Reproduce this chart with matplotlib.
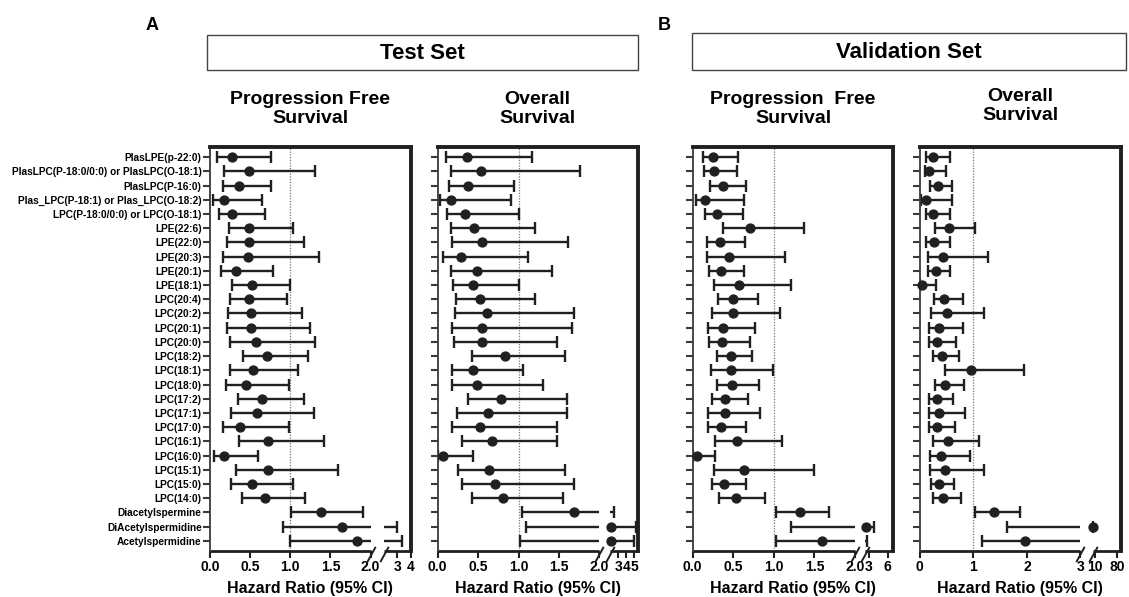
import matplotlib
matplotlib.use("Agg")
import matplotlib.pyplot as plt
from matplotlib.patches import Rectangle
import numpy as np

plt.rcParams['font.family'] = ['Liberation Sans', 'DejaVu Sans']
plt.rcParams['font.weight'] = 'bold'

labels = ['PlasLPE(p-22:0)', 'PlasLPC(P-18:0/0:0) or PlasLPC(O-18:1)', 'PlasLPC(P-16:0)',
          'Plas_LPC(P-18:1) or Plas_LPC(O-18:2)', 'LPC(P-18:0/0:0) or LPC(O-18:1)',
          'LPE(22:6)', 'LPE(22:0)', 'LPE(20:3)', 'LPE(20:1)', 'LPE(18:1)',
          'LPC(20:4)', 'LPC(20:2)', 'LPC(20:1)', 'LPC(20:0)', 'LPC(18:2)', 'LPC(18:1)',
          'LPC(18:0)', 'LPC(17:2)', 'LPC(17:1)', 'LPC(17:0)', 'LPC(16:1)', 'LPC(16:0)',
          'LPC(15:1)', 'LPC(15:0)', 'LPC(14:0)', 'Diacetylspermine', 'DiAcetylspermidine',
          'Acetylspermidine']

# test set, progression free survival
test_pfs_hr = [0.28, 0.48, 0.36, 0.175, 0.28, 0.49, 0.49, 0.47, 0.33, 0.525, 0.49, 0.51, 0.51, 0.57,
               0.71, 0.53, 0.45, 0.65, 0.58, 0.375, 0.72, 0.18, 0.72, 0.525, 0.69, 1.38, 1.65, 1.83]
test_pfs_lo = [0.09, 0.175, 0.158, 0.04, 0.108, 0.233, 0.21, 0.158, 0.133, 0.275, 0.246, 0.22, 0.21, 0.246,
               0.41, 0.246, 0.2, 0.346, 0.26, 0.158, 0.36, 0.046, 0.33, 0.26, 0.396, 1.01, 0.91, 1.0]
test_pfs_hi = [0.76, 1.31, 0.76, 0.65, 0.69, 1.04, 1.17, 1.36, 0.79, 1.0, 0.96, 1.15, 1.24, 1.31,
               1.22, 1.10, 0.99, 1.17, 1.30, 0.98, 1.42, 0.6, 1.59, 1.04, 1.18, 1.9, 2.96, 3.35]

# test set, overall survival
test_os_hr = [0.36, 0.54, 0.37, 0.165, 0.34, 0.455, 0.545, 0.285, 0.48, 0.434, 0.525, 0.61, 0.55, 0.55,
              0.83, 0.434, 0.48, 0.785, 0.62, 0.525, 0.67, 0.07, 0.64, 0.715, 0.81, 1.68, 2.1, 2.05]
test_os_lo = [0.10, 0.165, 0.145, 0.03, 0.116, 0.165, 0.178, 0.066, 0.165, 0.19, 0.227, 0.215, 0.178, 0.2,
              0.426, 0.178, 0.178, 0.38, 0.244, 0.18, 0.3, 0.0, 0.256, 0.3, 0.426, 1.045, 1.095, 1.02]
test_os_hi = [1.17, 1.76, 0.94, 0.91, 1.01, 1.2, 1.61, 1.12, 1.41, 1.0, 1.2, 1.68, 1.66, 1.48,
              1.58, 1.05, 1.3, 1.6, 1.6, 1.48, 1.47, 0.44, 1.58, 1.69, 1.55, 2.45, 5.2, 4.95]

# validation set, progression free survival
val_pfs_hr = [0.25, 0.26, 0.37, 0.15, 0.3, 0.71, 0.333, 0.444, 0.354, 0.57, 0.494, 0.494, 0.374, 0.366,
              0.47, 0.47, 0.49, 0.4, 0.4, 0.35, 0.55, 0.05, 0.63, 0.39, 0.535, 1.32, 2.6, 1.59]
val_pfs_lo = [0.123, 0.14, 0.214, 0.037, 0.152, 0.37, 0.173, 0.173, 0.2, 0.26, 0.31, 0.235, 0.185, 0.2,
              0.3, 0.226, 0.3, 0.24, 0.185, 0.185, 0.276, 0.0, 0.263, 0.235, 0.325, 1.03, 1.21, 1.025]
val_pfs_hi = [0.56, 0.55, 0.66, 0.63, 0.62, 1.37, 0.646, 1.14, 0.63, 1.21, 0.81, 1.07, 0.77, 0.7,
              0.73, 0.99, 0.82, 0.68, 0.83, 0.66, 1.1, 0.28, 1.5, 0.66, 0.89, 1.68, 3.9, 2.75]

# validation set, overall survival
val_os_hr = [0.25, 0.17, 0.34, 0.125, 0.25, 0.54, 0.27, 0.44, 0.3, 0.05, 0.46, 0.505, 0.36, 0.33,
             0.42, 0.95, 0.47, 0.32, 0.36, 0.32, 0.52, 0.405, 0.47, 0.355, 0.43, 1.39, 4.5, 1.96]
val_os_lo = [0.11, 0.09, 0.187, 0.03, 0.11, 0.28, 0.125, 0.15, 0.15, 0.0, 0.26, 0.206, 0.17, 0.17,
             0.243, 0.467, 0.28, 0.17, 0.17, 0.17, 0.24, 0.19, 0.19, 0.206, 0.243, 1.03, 1.63, 1.17]
val_os_hi = [0.56, 0.49, 0.61, 0.61, 0.57, 1.03, 0.57, 1.28, 0.57, 0.31, 0.8, 1.2, 0.8, 0.67,
             0.73, 1.94, 0.82, 0.62, 0.84, 0.65, 1.11, 0.93, 1.2, 0.635, 0.77, 1.88, 5.5, 3.0]

W, H = 1129, 597
INK = '#231f20'


def fx(px):
    return px / W


def fy(py):
    return 1 - py / H


def broken_scale(b1, k1, s2a, g0, k2):
    # piecewise axis: [0, b1] at k1 px/unit, then a gap, then [s2a, ...] at k2 px/unit
    def fwd(v):
        v = np.asarray(v, dtype=float)
        return np.where(v <= b1, v * k1, g0 + (v - s2a) * k2)

    def inv(u):
        u = np.asarray(u, dtype=float)
        return np.where(u <= b1 * k1, u / k1, s2a + (u - g0) / k2)
    return fwd, inv


def forest(ax, hr, lo, hi, cfg, show_labels):
    b1, k1, s2a, g0, k2, xmax = cfg['scale']
    ax.set_xscale('function', functions=broken_scale(b1, k1, s2a, g0, k2))
    ax.set_xlim(0, xmax)
    rows = np.arange(len(hr))
    ax.set_ylim(27.7, -0.7)

    ax.axvline(1.0, color='#777777', lw=0.9, ls=(0, (1, 1.2)), zorder=1)

    segs = [(0.0, b1), (s2a + 1e-6, xmax)]
    for r in rows:
        for a, b in segs:
            l = max(lo[r], a)
            h = min(hi[r], b)
            if l >= h:
                continue
            ax.plot([l, h], [r, r], color=INK, lw=1.7, solid_capstyle='butt', zorder=2)
            if a <= lo[r] < b:
                ax.plot(lo[r], r, marker='|', ms=8, mew=1.7, color=INK, zorder=2)
            if a < hi[r] < b:
                ax.plot(hi[r], r, marker='|', ms=8, mew=1.7, color=INK, zorder=2)
    ax.plot(hr, rows, 'o', ms=6.4, color=INK, zorder=3, clip_on=False)

    # frame
    ax.spines['top'].set_linewidth(2.8)
    ax.spines['right'].set_linewidth(2.8)
    ax.spines['top'].set_color(INK)
    ax.spines['right'].set_color(INK)
    ax.spines['left'].set_linewidth(1.3)
    ax.spines['left'].set_color('#3a3a3a')
    ax.spines['bottom'].set_visible(False)
    xt = ax.get_xaxis_transform()
    for a, b in segs:
        ax.plot([a, b], [0, 0], color=INK, lw=2, transform=xt, clip_on=False, solid_capstyle='butt')
    for xb in (b1, s2a + 1e-6):
        ax.plot(xb, -0.008, marker=[(-0.55, -1), (0.55, 1)], ms=11, mew=1.4, color=INK,
                transform=xt, clip_on=False, zorder=5)

    ax.set_xticks(cfg['ticks'])
    ax.set_xticklabels(cfg['ticklabels'])
    ax.xaxis.set_minor_locator(matplotlib.ticker.NullLocator())
    ax.tick_params(axis='x', length=5, width=1.5, color=INK, labelsize=10, pad=2)
    ax.set_xlabel('Hazard Ratio (95% CI)', fontsize=11.5, fontweight='bold', labelpad=5)

    ax.set_yticks(rows)
    if show_labels:
        ax.set_yticklabels(labels, fontsize=7.3, fontweight='bold')
    else:
        ax.set_yticklabels([])
    ax.tick_params(axis='y', length=5, width=1.5, color='#3a3a3a', pad=1)


panels = [
    dict(box=(210, 410.7), data=(test_pfs_hr, test_pfs_lo, test_pfs_hi),
         scale=(2.0, 80, 2.0, 173, 13.5, 4.0),
         ticks=[0, 0.5, 1.0, 1.5, 2.0, 3, 4], ticklabels=['0.0', '0.5', '1.0', '1.5', '2.0', '3', '4'],
         title='Progression Free\nSurvival', ty=109),
    dict(box=(437.7, 637.5), data=(test_os_hr, test_os_lo, test_os_hi),
         scale=(2.0, 81, 2.0, 173, 8.0, 5.4),
         ticks=[0, 0.5, 1.0, 1.5, 2.0, 3, 4, 5],
         ticklabels=['0.0', '0.5', '1.0', '1.5', '2.0', '3', '4', '5'],
         title='Overall\nSurvival', ty=109),
    dict(box=(692.7, 893.3), data=(val_pfs_hr, val_pfs_lo, val_pfs_hi),
         scale=(2.0, 81, 2.5, 172.3, 6.33, 6.9),
         ticks=[0, 0.5, 1.0, 1.5, 2.0, 3, 6], ticklabels=['0.0', '0.5', '1.0', '1.5', '2.0', '3', '6'],
         title='Progression  Free\nSurvival', ty=109),
    dict(box=(919.7, 1121), data=(val_os_hr, val_os_lo, val_os_hi),
         scale=(3.0, 53.5, 4.0, 173, 0.315, 93),
         ticks=[0, 1, 2, 3, 10, 80], ticklabels=['0', '1', '2', '3', '10', '80'],
         title='Overall\nSurvival', ty=106),
]

fig = plt.figure(figsize=(W / 100, H / 100), dpi=100)
top_px, bot_px = 147.3, 550.7
for i, p in enumerate(panels):
    x0, x1 = p['box']
    ax = fig.add_axes([fx(x0), fy(bot_px), (x1 - x0) / W, (bot_px - top_px) / H])
    forest(ax, *p['data'], p, show_labels=(i == 0))
    fig.text(fx((x0 + x1) / 2), fy(p['ty']), p['title'], ha='center', va='center',
             fontsize=14, fontweight='bold', linespacing=1.2)

# set headers
for (bx0, by0, bx1, by1), name in [((207, 35, 638, 70), 'Test Set'),
                                   ((692, 33, 1126, 70), 'Validation Set')]:
    fig.patches.append(Rectangle((fx(bx0), fy(by1)), (bx1 - bx0) / W, (by1 - by0) / H,
                                 transform=fig.transFigure, fill=False, lw=1, ec='#444444'))
    fig.text(fx((bx0 + bx1) / 2), fy((by0 + by1) / 2 + 1), name, ha='center', va='center',
             fontsize=16, fontweight='bold')

fig.text(fx(152), fy(25), 'A', ha='center', va='center', fontsize=13, fontweight='bold')
fig.text(fx(664), fy(25), 'B', ha='center', va='center', fontsize=13, fontweight='bold')

fig.savefig('out.png', dpi=100)
